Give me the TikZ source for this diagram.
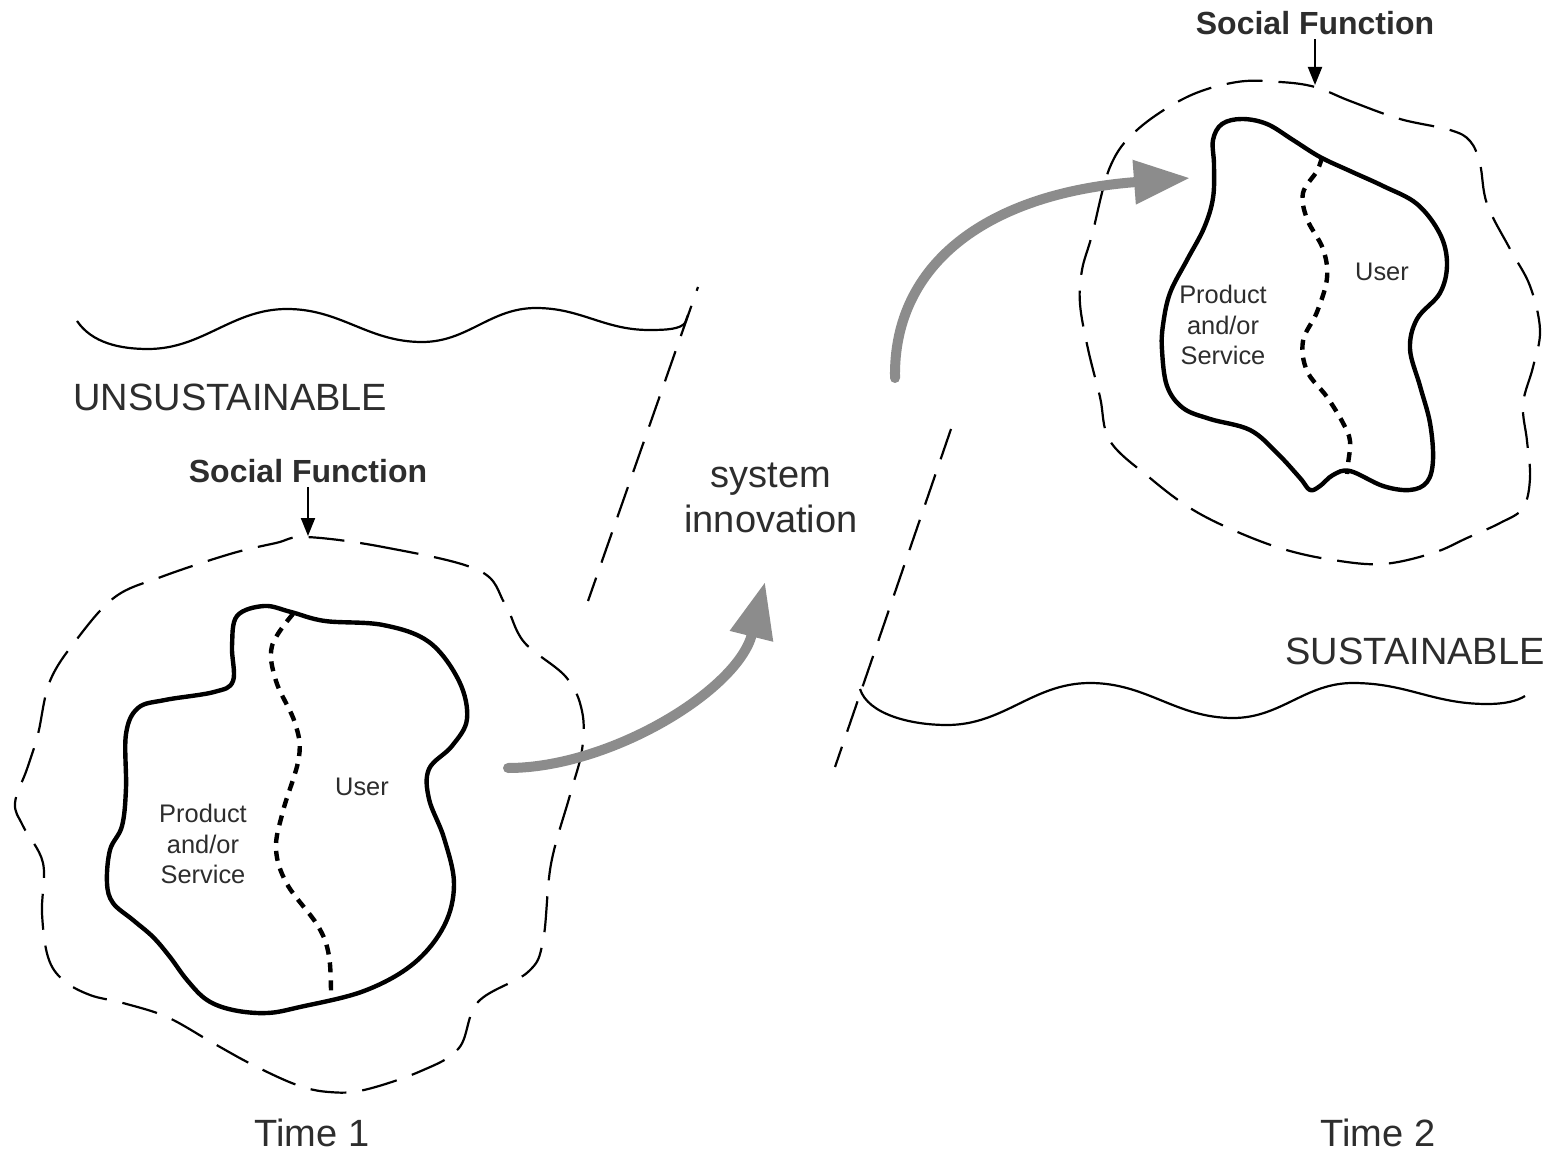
\documentclass[tikz,border=0pt]{standalone}
\usepackage{fontspec}
\setmainfont{Liberation Sans}
\usetikzlibrary{arrows.meta}
\definecolor{arrowgray}{RGB}{140,140,140}
\definecolor{inkgray}{RGB}{45,45,45}
\begin{document}
\begin{tikzpicture}[x=0.5pt,y=-0.5pt,
  outline/.style={line width=2.2pt, line join=round},
  divider/.style={line width=2.2pt, dash pattern=on 5pt off 4pt},
  boundary/.style={line width=1.1pt, dash pattern=on 18pt off 8pt},
  border/.style={line width=1.1pt, dash pattern=on 16pt off 8pt},
  wave/.style={line width=1.1pt, line join=round},
  shiftarrow/.style={line width=5pt, draw=arrowgray, line cap=round,
    -{Triangle[length=28pt,width=21pt]}},
  pointer/.style={line width=1pt, shorten <=2pt, -{Triangle[length=9pt,width=7pt]}},
  txt/.style={inner sep=0pt, text=inkgray},
  big/.style={font=\fontsize{19}{22.5}\selectfont},
  small/.style={font=\fontsize{12.7}{15.3}\selectfont},
  tag/.style={font=\bfseries\fontsize{16}{19}\selectfont},
]
\fill[white] (0,0) rectangle (1551,1154);
\useasboundingbox (0,0) rectangle (1551,1154);

% ---------- regime boundaries ----------
\draw[wave] (77,321) .. controls (92,343) and (120,349) .. (148,349)
  .. controls (203,349) and (232,309) .. (287,309)
  .. controls (341,309) and (368,342) .. (422,342)
  .. controls (468,342) and (490,308) .. (536,308)
  .. controls (581,308) and (604,330) .. (649,330)
  .. controls (668,330) and (680,329) .. (685,323) -- (688,315);
\draw[border, dash phase=14pt] (698,287) -- (588,601);

\draw[wave] (860,689) .. controls (868,714) and (910,725) .. (947,725)
  .. controls (1004,725) and (1033,683) .. (1090,683)
  .. controls (1147,683) and (1176,718) .. (1233,718)
  .. controls (1281,718) and (1305,683) .. (1353,683)
  .. controls (1407,683) and (1433,704) .. (1487,704)
  .. controls (1505,704) and (1517,701) .. (1525,696);
\draw[border] (951,429) -- (835,767);

\node[txt,big,anchor=west] (unsus) at (73,397) {UNSUSTAINABLE};
\node[txt,big,anchor=east] (sus) at (1545,651) {SUSTAINABLE};

% ---------- time 1 ----------
\draw[boundary] plot[smooth cycle, tension=0.6] coordinates {
  (306,537) (383,547) (478,570) (505,604) (524,642) (566,677) (582,711)
  (582,750) (570,795) (551,864) (543,941) (528,972) (478,1002) (459,1048)
  (421,1071) (364,1090) (329,1092) (297,1085) (253,1065) (213,1043)
  (167,1017) (123,1003) (90,995) (63,980) (48,957) (42,913) (43,863)
  (23,826) (15,803) (27,769) (38,734)
  (50,681) (77,639) (115,597) (161,577) (230,554) (276,543)};
\draw[outline] plot[smooth cycle, tension=0.6] coordinates {
  (237,616) (264,606) (291,612) (325,621) (383,625) (429,642) (459,681)
  (467,719) (452,746) (429,769) (429,799) (444,838) (454,884) (444,926)
  (413,964) (364,991) (300,1007) (267,1013) (233,1010) (207,1000) (187,980)
  (170,957) (153,937) (133,920) (113,903) (107,883) (110,850)
  (122,826) (126,788) (126,734) (138,708)
  (165,700) (214,692) (233,681) (232,646)};
\draw[divider] plot[smooth, tension=0.6] coordinates {
  (293,614) (272,646) (276,681) (295,723) (299,757) (283,811) (276,849)
  (287,884) (318,926) (329,956) (331,997)};

\node[txt,small] (user1) at (362,787) {User};
\node[txt,small,align=center] (prod1) at (203,844) {Product\\and/or\\Service};
\node[txt,tag] (sf1) at (308,471) {Social Function};
\coordinate (sf1tip) at (308,536);
\draw[pointer] (sf1.south) -- (sf1tip);
\node[txt,big] (time1) at (312,1133) {Time 1};

% ---------- time 2 ----------
\draw[boundary] plot[smooth cycle, tension=0.6] coordinates {
  (1315,87) (1350,101) (1400,119) (1450,130) (1470,141) (1480,164)
  (1487,204) (1510,249) (1530,286) (1540,330) (1533,367) (1523,404)
  (1527,441) (1530,478) (1523,508) (1500,523) (1467,538) (1433,553)
  (1383,564) (1333,560) (1283,549) (1233,530) (1190,508) (1150,478)
  (1110,441) (1100,397) (1088,349) (1080,304) (1082,270) (1092,235)
  (1110,167) (1137,130) (1187,97) (1237,82) (1280,82)};
\draw[outline] plot[smooth cycle, tension=0.6] coordinates {
  (1222,124) (1242,119) (1267,124) (1293,140) (1320,157) (1350,171)
  (1383,186) (1417,204) (1440,234) (1447,264) (1440,293) (1417,319)
  (1410,349) (1420,386) (1430,423) (1433,460) (1427,482) (1410,490)
  (1383,486) (1350,471) (1333,475) (1320,486) (1310,490) (1300,478)
  (1277,453) (1250,430) (1210,419) (1183,408) (1167,386) (1162,350)
  (1163,325) (1170,293) (1187,260) (1204,228) (1213,198) (1214,165)
  (1213,140)};
\draw[divider] plot[smooth, tension=0.6] coordinates {
  (1322,157) (1317,171) (1303,193) (1307,219) (1323,249) (1327,278)
  (1317,312) (1303,341) (1307,371) (1327,397) (1343,423) (1350,441)
  (1348,464) (1347,474)};

\node[txt,small] (user2) at (1382,272) {User};
\node[txt,small,align=center] (prod2) at (1223,325) {Product\\and/or\\Service};
\node[txt,tag] (sf2) at (1315,23) {Social Function};
\coordinate (sf2tip) at (1315,85);
\draw[pointer] (sf2.south) -- (sf2tip);
\node[txt,big] (time2) at (1378,1133) {Time 2};

% ---------- transition ----------
\node[txt,big,align=center] (innov) at (771,498) {system\\innovation};
\coordinate (a1tail) at (508,768);
\coordinate (a1tip) at (765,582);
\draw[shiftarrow] (a1tail) .. controls (610,768) and (738,690) .. (a1tip);
\coordinate (a2tail) at (895,378);
\coordinate (a2tip) at (1190,178);
\draw[shiftarrow] (a2tail) .. controls (893,262) and (990,193) .. (a2tip);
\end{tikzpicture}
\end{document}
